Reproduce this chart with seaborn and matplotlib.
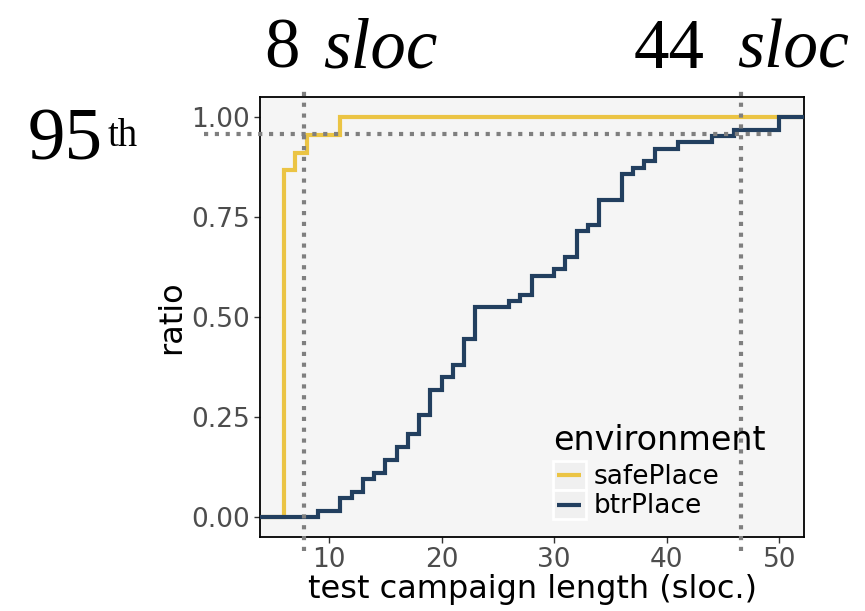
import numpy as np
import pandas as pd
import matplotlib
matplotlib.use("Agg")
import matplotlib.pyplot as plt
import seaborn as sns
from matplotlib.patches import Rectangle
from matplotlib.lines import Line2D

environments = ["safePlace", "btrPlace"]
safe_lengths = [6, 7, 8, 11]
safe_counts = [39, 2, 2, 2]
btr_lengths = [9, 11, 12, 13, 14, 15, 16, 17, 18, 19, 20, 21, 22, 23, 26,
               27, 28, 30, 31, 32, 33, 34, 36, 37, 38, 39, 41, 44, 46, 50]
btr_counts = [1, 2, 1, 2, 1, 2, 2, 2, 3, 4, 2, 2, 4, 5, 1,
              1, 3, 1, 2, 4, 1, 4, 4, 1, 1, 2, 1, 1, 1, 2]
# reference guides
q95_ratio = 0.957
q95_lengths = [7.8, 46.6]
x_ticks = [10, 20, 30, 40, 50]
y_ticks = [0.0, 0.25, 0.5, 0.75, 1.0]
y_ticklabels = ["0.00", "0.25", "0.50", "0.75", "1.00"]
palette = {"safePlace": "#EBC444", "btrPlace": "#223F5F"}

df = pd.DataFrame({
    "length": np.concatenate([np.repeat(safe_lengths, safe_counts),
                              np.repeat(btr_lengths, btr_counts)]),
    "environment": ["safePlace"] * sum(safe_counts) + ["btrPlace"] * sum(btr_counts),
})

sns.set_theme(style="white")
plt.rcParams["font.family"] = ["DejaVu Sans"]
plt.rcParams["text.color"] = "black"
plt.rcParams["axes.labelcolor"] = "black"

fig = plt.figure(figsize=(8.65, 6.11), dpi=100)
ax = fig.add_axes([260 / 865, 1 - 537 / 611, 544 / 865, 440 / 611])
ax.set_facecolor("#F5F5F5")

sns.ecdfplot(data=df, x="length", hue="environment", hue_order=environments,
             palette=palette, linewidth=3.0, ax=ax, legend=False)

xlim = (3.85, 52.2)
ax.set_xlim(*xlim)
ax.set_ylim(-0.05, 1.05)

# extend ECDF steps to the panel edges (like ggplot's stat_ecdf); btrPlace on top
btr_rgb = matplotlib.colors.to_rgb(palette["btrPlace"])
for ln in ax.lines:
    x = np.asarray(ln.get_xdata(), dtype=float)
    y = np.asarray(ln.get_ydata(), dtype=float)
    x = np.where(np.isneginf(x), xlim[0], x)
    x = np.append(x, xlim[1])
    y = np.append(y, y[-1])
    ln.set_data(x, y)
    ln.set_solid_joinstyle("miter")
    if np.allclose(matplotlib.colors.to_rgb(ln.get_color()), btr_rgb):
        ln.set_zorder(3)
    else:
        ln.set_zorder(2.5)

# dotted guides
dot_kw = dict(color="#7F7F7F", linewidth=3.0, linestyle=(0, (1, 1.6)),
              dash_capstyle="butt", clip_on=False, zorder=5)
ax.plot([-1.1, 49.9], [q95_ratio, q95_ratio], **dot_kw)
for xv in q95_lengths:
    ax.plot([xv, xv], [-0.085, 1.07], **dot_kw)

ax.set_xticks(x_ticks)
ax.set_yticks(y_ticks)
ax.set_yticklabels(y_ticklabels)
ax.tick_params(axis="both", which="both", direction="out", length=4, width=1,
               color="#333333", labelcolor="#4D4D4D", labelsize=19, pad=3,
               bottom=True, left=True)
for sp in ax.spines.values():
    sp.set_color("black")
    sp.set_linewidth(1.3)

ax.set_xlabel("test campaign length (sloc.)", fontsize=23, color="black", labelpad=1)
ax.set_ylabel("ratio", fontsize=23, color="black", labelpad=3)


class KeyHandler:
    def legend_artist(self, legend, orig_handle, fontsize, handlebox):
        x0, y0 = -handlebox.xdescent, -handlebox.ydescent
        w, h = handlebox.width, handlebox.height
        tr = handlebox.get_transform()
        rect = Rectangle((x0, y0), w, h, facecolor="#F0F0F0", edgecolor="white",
                         linewidth=2, transform=tr)
        line = Line2D([x0 + 0.13 * w, x0 + 0.87 * w], [y0 + h / 2, y0 + h / 2],
                      color=orig_handle.get_color(), linewidth=3.0,
                      solid_capstyle="butt", transform=tr)
        handlebox.add_artist(rect)
        handlebox.add_artist(line)
        return line


handles = [Line2D([], [], color=palette[env]) for env in environments]
leg = ax.legend(handles, environments, title="environment",
                handler_map={Line2D: KeyHandler()},
                loc="lower left", bbox_to_anchor=(0.538, 0.04),
                frameon=False, fontsize=19, title_fontsize=24,
                handlelength=1.25, handleheight=1.3, handletextpad=0.3,
                labelspacing=0.0, borderpad=0.0, borderaxespad=0.0)
leg._legend_box.align = "left"
leg._legend_box.sep = 3
for t in leg.get_texts():
    t.set_color("black")
leg.get_title().set_color("black")

# serif annotations
serif = ["Liberation Serif", "DejaVu Serif"]
fig.text(264 / 865, 1 - 68 / 611, "8", fontsize=51, family=serif, color="black",
         ha="left", va="baseline")
fig.text(323 / 865, 1 - 68 / 611, "sloc", fontsize=51, family=serif, style="italic",
         color="black", ha="left", va="baseline")
fig.text(634 / 865, 1 - 68 / 611, "44", fontsize=51, family=serif, color="black",
         ha="left", va="baseline")
fig.text(737 / 865, 1 - 68 / 611, "sloc", fontsize=50, family=serif, style="italic",
         color="black", ha="left", va="baseline")
fig.text(28 / 865, 1 - 160 / 611, "95", fontsize=54, family=serif, color="black",
         ha="left", va="baseline")
fig.text(108 / 865, 1 - 146 / 611, "th", fontsize=28, family=serif, color="black",
         ha="left", va="baseline")

fig.savefig("out.png", dpi=100, facecolor="white")
